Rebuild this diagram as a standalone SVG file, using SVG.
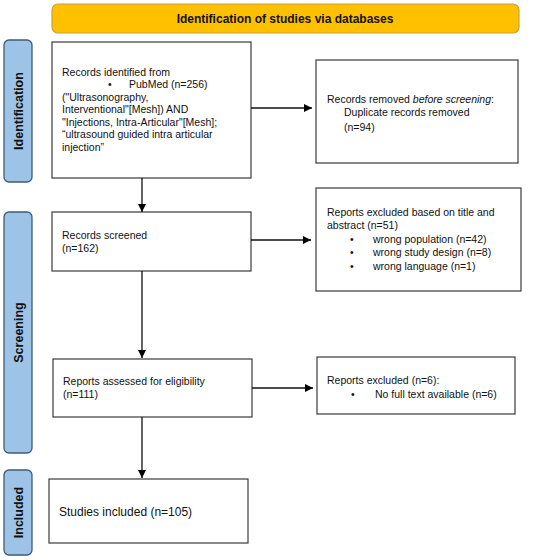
<svg xmlns="http://www.w3.org/2000/svg" width="550" height="560" viewBox="0 0 550 560">
<defs>
<marker id="ah" viewBox="0 0 10 10" refX="10" refY="5" markerWidth="8" markerHeight="8" markerUnits="userSpaceOnUse" orient="auto">
<path d="M0,0 L10,5 L0,10 z" fill="#000"/>
</marker>
<style>
.box{fill:#fff;stroke:#3a3a3a;stroke-width:1.2}
.side{fill:#9dc3e6;stroke:#3e5c78;stroke-width:1.3}
.t{font-family:"Liberation Sans",Arial,sans-serif;font-size:10.5px;fill:#111}
.sl{font-family:"Liberation Sans",Arial,sans-serif;font-size:12px;font-weight:bold;fill:#111;text-anchor:middle}
.sv{font-size:12.5px}
.c{stroke:#111;stroke-width:1.3;fill:none}
</style>
</defs>
<rect width="550" height="560" fill="#fff"/>
<g id="banner">
<rect x="52" y="4" width="467" height="29" rx="6" fill="#ffc000" stroke="#c9a23a" stroke-width="1.2"/>
<text class="sl" x="285" y="22.5">Identification of studies via databases</text>
</g>
<g id="side-identification">
<rect class="side" x="4" y="40" width="28" height="142" rx="5"/>
<text class="sl sv" transform="translate(22.5,111) rotate(-90)">Identification</text>
</g>
<g id="side-screening">
<rect class="side" x="4" y="212" width="28" height="241" rx="5"/>
<text class="sl sv" transform="translate(22.5,332.5) rotate(-90)">Screening</text>
</g>
<g id="side-included">
<rect class="side" x="4" y="470" width="28" height="85" rx="5"/>
<text class="sl sv" transform="translate(22.5,512.5) rotate(-90)">Included</text>
</g>
<g id="records-identified">
<rect class="box" x="52" y="42" width="199" height="136"/>
<text class="t" x="62" y="75.5">Records identified from</text>
<text class="t" x="108" y="88">•</text>
<text class="t" x="129" y="88">PubMed (n=256)</text>
<text class="t" x="62" y="100.5">("Ultrasonography,</text>
<text class="t" x="62" y="113">Interventional"[Mesh]) AND</text>
<text class="t" x="62" y="125.5">"Injections, Intra-Articular"[Mesh];</text>
<text class="t" x="62" y="138">“ultrasound guided intra articular</text>
<text class="t" x="62" y="150.5">injection”</text>
</g>
<g id="records-removed">
<rect class="box" x="316" y="60" width="202" height="103"/>
<text class="t" x="327" y="103">Records removed <tspan font-style="italic">before screening</tspan>:</text>
<text class="t" x="344" y="115.5">Duplicate records removed</text>
<text class="t" x="344" y="131">(n=94)</text>
</g>
<g id="records-screened">
<rect class="box" x="52" y="212" width="199" height="59"/>
<text class="t" x="62" y="239">Records screened</text>
<text class="t" x="62" y="252">(n=162)</text>
</g>
<g id="reports-excluded-title">
<rect class="box" x="316" y="188" width="205" height="103"/>
<text class="t" x="327" y="216">Reports excluded based on title and</text>
<text class="t" x="327" y="229">abstract (n=51)</text>
<text class="t" x="350" y="243">•</text>
<text class="t" x="373" y="243">wrong population (n=42)</text>
<text class="t" x="350" y="256">•</text>
<text class="t" x="373" y="256">wrong study design (n=8)</text>
<text class="t" x="350" y="270">•</text>
<text class="t" x="373" y="270">wrong language (n=1)</text>
</g>
<g id="reports-assessed">
<rect class="box" x="53" y="359" width="199" height="58"/>
<text class="t" x="63" y="385">Reports assessed for eligibility</text>
<text class="t" x="63" y="398">(n=111)</text>
</g>
<g id="reports-excluded">
<rect class="box" x="317" y="357" width="198" height="57"/>
<text class="t" x="327" y="384">Reports excluded (n=6):</text>
<text class="t" x="351" y="397.5">•</text>
<text class="t" x="375" y="397.5">No full text available (n=6)</text>
</g>
<g id="studies-included">
<rect class="box" x="49" y="479" width="199" height="64"/>
<text class="t" x="59" y="515.5" style="font-size:12px">Studies included (n=105)</text>
</g>
<g id="connectors">
<line class="c" x1="251" y1="108" x2="312" y2="108" marker-end="url(#ah)"/>
<line class="c" x1="142" y1="178" x2="142" y2="212" marker-end="url(#ah)"/>
<line class="c" x1="251" y1="240" x2="311" y2="240" marker-end="url(#ah)"/>
<line class="c" x1="142" y1="271" x2="142" y2="358" marker-end="url(#ah)"/>
<line class="c" x1="252" y1="388" x2="313" y2="388" marker-end="url(#ah)"/>
<line class="c" x1="142" y1="417" x2="142" y2="478" marker-end="url(#ah)"/>
</g>
</svg>
